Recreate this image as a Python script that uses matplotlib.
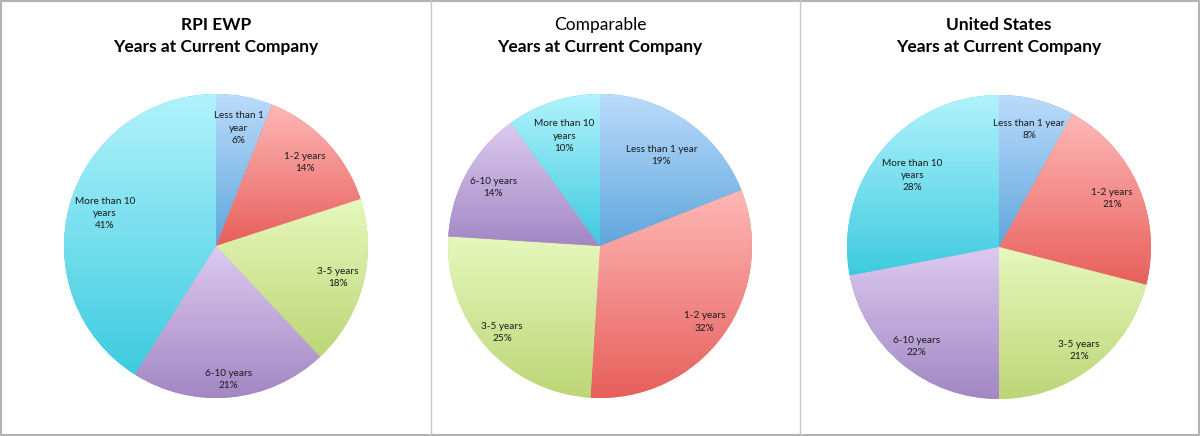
import numpy as np
import matplotlib
matplotlib.use("Agg")
from matplotlib import pyplot as plt
from matplotlib.colors import LinearSegmentedColormap

plt.rcParams['font.family'] = ['Lato', 'DejaVu Sans']

categories = ["Less than 1 year", "1-2 years", "3-5 years", "6-10 years", "More than 10 years"]
rpi_values = [6, 14, 18, 21, 41]
comp_values = [19, 32, 25, 14, 10]
us_values = [8, 21, 21, 22, 28]

# label text as wrapped in each chart
rpi_labels = ["Less than 1\nyear", "1-2 years", "3-5 years", "6-10 years", "More than 10\nyears"]
comp_labels = ["Less than 1 year", "1-2 years", "3-5 years", "6-10 years", "More than 10\nyears"]
us_labels = ["Less than 1 year", "1-2 years", "3-5 years", "6-10 years", "More than 10\nyears"]

# label radius (fraction of pie radius), like Excel's best fit
rpi_dist = [0.79, 0.80, 0.83, 0.88, 0.76]
comp_dist = [0.72, 0.85, 0.86, 0.80, 0.76]
us_dist = [0.80, 0.81, 0.86, 0.85, 0.74]

# (top colour, bottom colour) gradients, Excel style
grads = [("#bcdcfc", "#5fa6dc"),
         ("#feb8b7", "#e75f5b"),
         ("#e6f8bd", "#bdd676"),
         ("#ddcaf0", "#a287c3"),
         ("#b2f3fc", "#3dcbdf")]

W, H = 1200, 436
fig = plt.figure(figsize=(W / 100, H / 100), dpi=100)

charts = [
    ("RPI EWP", "bold", rpi_values, rpi_labels, rpi_dist, 216, 246),
    ("Comparable", "normal", comp_values, comp_labels, comp_dist, 600, 246),
    ("United States", "bold", us_values, us_labels, us_dist, 999, 247),
]
R = 152

for title, w1, vals, labs, dists, cx, cy in charts:
    ax = fig.add_axes([(cx - R) / W, (H - cy - R) / H, 2 * R / W, 2 * R / H])
    wedges, _ = ax.pie(vals, startangle=90, counterclock=False, radius=1,
                       colors=[g[1] for g in grads],
                       wedgeprops=dict(linewidth=0))
    ax.set_xlim(-1, 1)
    ax.set_ylim(-1, 1)
    ax.set_aspect("equal")
    for wdg, (c0, c1), l, v, d in zip(wedges, grads, labs, vals, dists):
        cmap = LinearSegmentedColormap.from_list("g", [c1, c0])
        bb = wdg.get_path().get_extents(wdg.get_patch_transform())
        grad = np.linspace(0, 1, 256).reshape(-1, 1)
        im = ax.imshow(grad, cmap=cmap, origin="lower", aspect="auto",
                       extent=[bb.x0, bb.x1, bb.y0, bb.y1], zorder=wdg.get_zorder() + 0.1)
        im.set_clip_path(wdg)
        ang = np.deg2rad((wdg.theta1 + wdg.theta2) / 2)
        ax.text(d * np.cos(ang), d * np.sin(ang), f"{l}\n{v}%", ha="center", va="center",
                fontsize=7.2, color="#1a1a1a", linespacing=1.45, zorder=5)
    ax.set_xlim(-1, 1)
    ax.set_ylim(-1, 1)
    ax.axis("off")
    fig.text(cx / W, 1 - 25 / H, title, ha="center", va="center",
             fontsize=12.5, fontweight=w1)
    fig.text(cx / W, 1 - 47 / H, "Years at Current Company", ha="center", va="center",
             fontsize=12.5, fontweight="bold")

# panel borders
border = dict(color="#b3b3b3", linewidth=1.5, transform=fig.transFigure)
fig.add_artist(plt.Line2D([1 / W, 1 - 1 / W, 1 - 1 / W, 1 / W, 1 / W],
                          [1 - 1 / H, 1 - 1 / H, 1 / H, 1 / H, 1 - 1 / H], **border))
fig.add_artist(plt.Line2D([430.5 / W, 430.5 / W], [0, 1], color="#c8c8c8", linewidth=1,
                          transform=fig.transFigure))
fig.add_artist(plt.Line2D([799.5 / W, 799.5 / W], [0, 1], color="#c8c8c8", linewidth=1,
                          transform=fig.transFigure))

fig.savefig("out.png", dpi=100, facecolor="white")
